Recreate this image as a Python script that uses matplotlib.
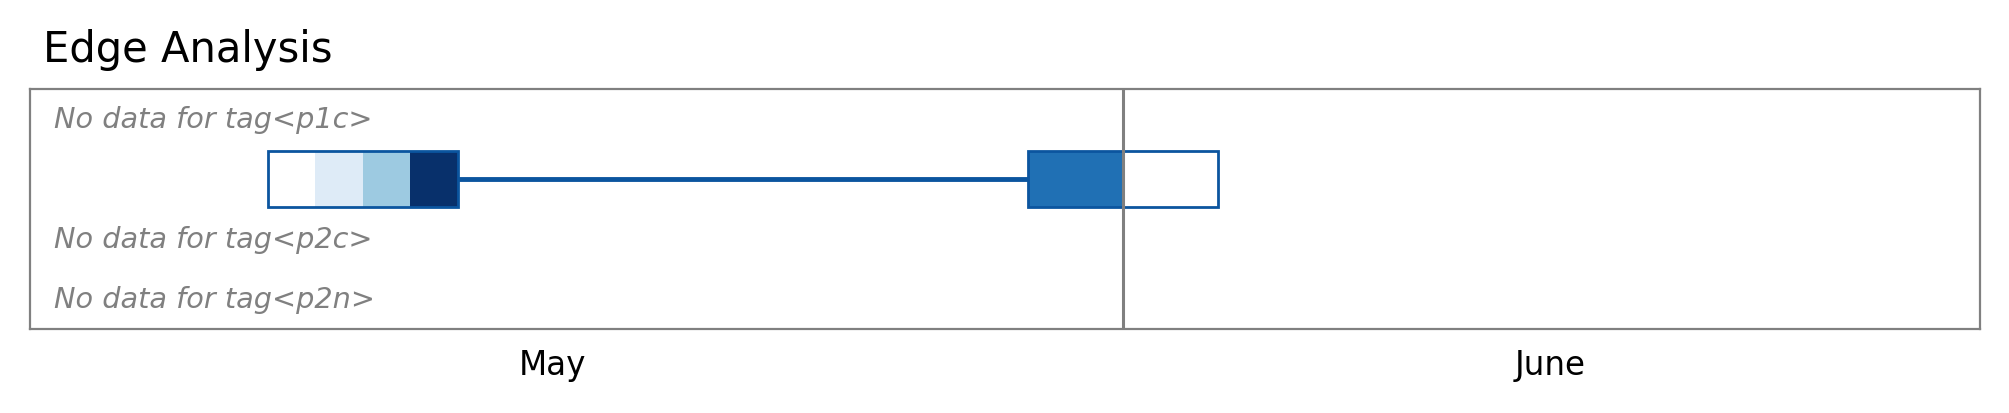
import matplotlib
matplotlib.use("Agg")
import matplotlib.pyplot as plt
import matplotlib.dates as mdates
from matplotlib.patches import Rectangle
from matplotlib.transforms import blended_transform_factory, offset_copy
from datetime import datetime

# ---- data ----
title = "Edge Analysis"
tags = ["p1c", "p1n", "p2c", "p2n"]
tag_has_data = [False, True, False, False]
x_start = "2024-05-09"
x_end = "2024-06-19"
month_labels = ["May", "June"]
month_first_visible = ["2024-05-09", "2024-06-01"]
month_last_visible = ["2024-05-31", "2024-06-19"]
month_boundary = "2024-06-01"

# row p1n: first block (4 daily cells) and second block (2 cells of 2 days)
block1_start = "2024-05-14"
block1_days = [1, 1, 1, 1]
block1_values = [None, 0.125, 0.375, 1.0]
connector_start = "2024-05-18"
connector_end = "2024-05-30"
block2_start = "2024-05-30"
block2_days = [2, 2]
block2_values = [0.75, None]

# ---- styles ----
W, H, DPI = 2009, 414, 100
edge_col = "#0b559f"
gray = "#808080"
cmap = plt.get_cmap("Blues")

def d(s):
    return mdates.date2num(datetime.strptime(s, "%Y-%m-%d"))

fig = plt.figure(figsize=(W / DPI, H / DPI), dpi=DPI)
ax = fig.add_axes([30 / W, 1 - 330 / H, 1950 / W, 240 / H])
ax.set_xlim(d(x_start), d(x_end) + 0.05)
ax.set_ylim(len(tags), 0)
for s in ax.spines.values():
    s.set_color(gray)
    s.set_linewidth(1.6)
ax.set_yticks([])

# month ticks
pos = [(d(a) + d(b)) / 2 for a, b in zip(month_first_visible, month_last_visible)]
ax.set_xticks(pos)
ax.set_xticklabels(month_labels, fontsize=23.5)
ax.tick_params(axis="x", length=0, pad=14)

ax.axvline(d(month_boundary), color=gray, lw=2.2, zorder=5)

bh = 0.94
tr = offset_copy(blended_transform_factory(ax.transAxes, ax.transData), fig=fig, x=24, y=0, units="dots")
for i, (tag, has) in enumerate(zip(tags, tag_has_data)):
    yc = i + 0.5
    if not has:
        ax.text(0, yc, f"No data for tag<{tag}>", transform=tr, fontsize=20.7,
                style="italic", color=gray, va="center", ha="left")
        continue
    # connector
    ax.plot([d(connector_start), d(connector_end)], [yc, yc], color=edge_col, lw=3.5, zorder=2,
            solid_capstyle="butt")
    for bstart, days, vals in [(block1_start, block1_days, block1_values),
                               (block2_start, block2_days, block2_values)]:
        x0 = d(bstart)
        x = x0
        for dd, v in zip(days, vals):
            fc = "white" if v is None else cmap(v)
            ax.add_patch(Rectangle((x, yc - bh / 2), dd, bh, facecolor=fc, edgecolor="none", zorder=3))
            x += dd
        ax.add_patch(Rectangle((x0, yc - bh / 2), x - x0, bh, facecolor="none",
                               edgecolor=edge_col, lw=2.0, zorder=4))

fig.text(43 / W, 1 - 50 / H, title, fontsize=30, va="center", ha="left")

fig.savefig("out.png", dpi=DPI)
